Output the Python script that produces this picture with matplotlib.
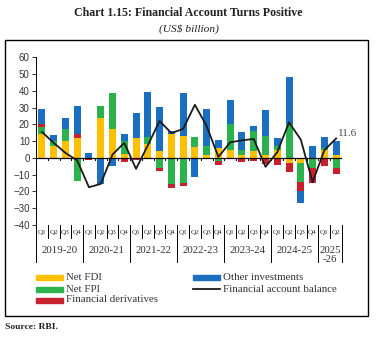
import matplotlib
matplotlib.use("Agg")
import matplotlib.pyplot as plt
from matplotlib.patches import Rectangle
from matplotlib.lines import Line2D
import matplotlib.transforms as mtransforms
import numpy as np

plt.rcParams['font.family'] = ['Liberation Serif', 'DejaVu Serif']

years = ['2019-20', '2020-21', '2021-22', '2022-23', '2023-24', '2024-25', '2025\n-26']
quarters = ['Q1', 'Q2', 'Q3', 'Q4'] * 6 + ['Q1', 'Q2']

net_fdi = [14, 7, 10, 12, -0.7, 24, 17, 2.5, 11.8, 8.5, 4.3, 14, 13.3, 6.3,
           2, 6, 4.5, 1.5, 3.9, 2, 4.5, -3, -3, -0.3, 4.5, 2]
net_fpi = [4.5, 3, 7.5, -14, 0, 7, 21.5, 7.5, 0, 4, -6, -15.3, -15, 6.2,
           4.9, -2, 15.9, 3.5, 11.9, 11.3, 2.5, 20.4, -11.5, -6, 1.5, -6]
fin_deriv = [1.5, 0, 0, 2, -0.3, -0.5, -0.3, -2.4, -1.5, -0.5, -2, -2.7, -2, 0,
             -0.5, -2.5, -0.5, -2.5, -2, -3.6, -4, -5.3, -5.3, -8.5, -5, -3.5]
other_inv = [9.2, 3.5, 6.2, 16.8, 3, -15, -4.5, 4.5, 14.8, 27, 26, 2, 25.7, -11.3,
             22.3, 4.9, 13.9, 10.5, 3, 15, 5, 27.6, -6.9, 7.3, 6.5, 8]
fa_balance = [15.5, 9, 3, -1.5, -17.5, -15.5, 2, 9, -6.5, 7.5, 22, 14.8, 17.3, 31.7,
              19, 0.6, 9.3, 10.5, 11.3, -5.3, 3.4, 21.2, 10.9, -14.5, 4.6, 11.6]

series = [("Net FDI", net_fdi, "#FFC000"),
          ("Net FPI", net_fpi, "#2BB24C"),
          ("Financial derivatives", fin_deriv, "#C8202F"),
          ("Other investments", other_inv, "#1B6FC1")]

W, H = 377, 337
fig = plt.figure(figsize=(W / 100, H / 100), dpi=100)

def fx(px):
    return px / W

def fy(py):
    return 1 - py / H

ax = fig.add_axes([fx(36), fy(225), fx(342) - fx(36), fy(57.3) - fy(225)])

x = np.arange(len(quarters))
pos_base = np.zeros(len(x))
neg_base = np.zeros(len(x))
for name, vals, col in series:
    v = np.array(vals, dtype=float)
    bottom = np.where(v >= 0, pos_base, neg_base)
    ax.bar(x, v, bottom=bottom, width=0.6, color=col, edgecolor='none', zorder=2)
    pos_base += np.where(v >= 0, v, 0)
    neg_base += np.where(v < 0, v, 0)

ax.plot(x, fa_balance, color='#1a1a1a', lw=1.3, zorder=4)
ax.text(x[-1] + 0.15, fa_balance[-1], '11.6', fontsize=8, color='#444444',
        va='bottom', ha='left')

ax.axhline(0, color='black', lw=0.9, zorder=3)
for b in np.arange(-0.5, len(x), 1.0):
    ax.plot([b, b], [0, -1.5], color='black', lw=0.7, zorder=3)

ax.set_xlim(-0.5, len(x) - 0.5)
ax.set_ylim(-40, 60)
ax.set_yticks(range(-40, 61, 10))
ax.tick_params(axis='y', labelsize=7, colors='#333333', length=3, width=0.7, pad=1.5)
for lab in ax.get_yticklabels():
    lab.set_family(['Liberation Sans', 'DejaVu Sans'])
ax.set_xticks([])
for s in ['top', 'right', 'bottom']:
    ax.spines[s].set_visible(False)
ax.spines['left'].set_linewidth(0.7)

# category axis below the plot
trans = mtransforms.blended_transform_factory(ax.transData, ax.transAxes)
for i, q in enumerate(quarters):
    ax.text(i, -0.042, q, transform=trans, fontsize=5.2, ha='center', va='center',
            color='#333333')
for b in np.arange(-0.5, len(x), 1.0):
    long_line = (b + 0.5) % 4 == 0 or b == len(x) - 0.5
    y_end = -0.22 if long_line else -0.08
    ax.plot([b, b], [0, y_end], transform=trans, color='black', lw=0.7, clip_on=False)
for k, yr in enumerate(years):
    start = 4 * k
    end = min(4 * k + 4, len(x))
    ax.text((start + end - 1) / 2, -0.125, yr, transform=trans, fontsize=7.8,
            ha='center', va='top', color='#333333', linespacing=0.95)

# legend
leg = [(36, 277, "Net FDI", "#FFC000", 'patch'),
       (36, 289, "Net FPI", "#2BB24C", 'patch'),
       (36, 300, "Financial derivatives", "#C8202F", 'patch'),
       (193, 277, "Other investments", "#1B6FC1", 'patch'),
       (193, 289, "Financial account balance", "#1a1a1a", 'line')]
for px, py, label, col, kind in leg:
    if kind == 'patch':
        fig.patches.append(Rectangle((fx(px), fy(py + 2.5)), fx(27), 5 / H,
                                     transform=fig.transFigure, color=col))
    else:
        fig.lines.append(Line2D([fx(px), fx(px + 27)], [fy(py), fy(py)],
                                transform=fig.transFigure, color=col, lw=1.3))
    fig.text(fx(px + 30), fy(py), label, fontsize=7.8, va='center', ha='left',
             color='#333333')

# frame, title and source
fig.patches.append(Rectangle((fx(5), fy(315.5)), fx(363), (315.5 - 39.5) / H,
                             transform=fig.transFigure, fill=False,
                             edgecolor='black', lw=1.0))
fig.text(0.5, fy(13), "Chart 1.15: Financial Account Turns Positive", fontsize=8.6,
         fontweight='bold', ha='center', va='center', color='#222222')
fig.text(0.5, fy(29), "(US$ billion)", fontsize=8.2, style='italic', ha='center',
         va='center', color='#222222')
fig.text(fx(5), fy(327), "Source: RBI.", fontsize=6.8, fontweight='bold',
         ha='left', va='center', color='#222222')

fig.savefig('out.png', dpi=100)
